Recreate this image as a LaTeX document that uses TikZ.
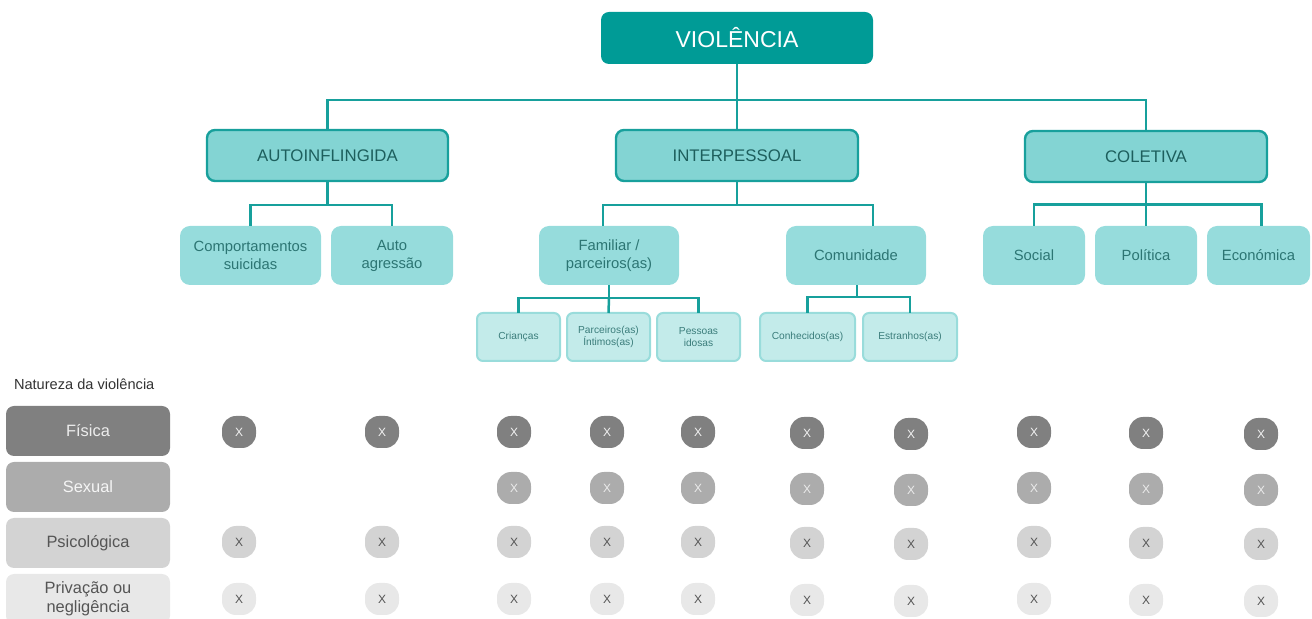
\documentclass[tikz,border=0pt]{standalone}
\usepackage{fontspec}
\setmainfont{Liberation Sans}
\usetikzlibrary{calc}
\definecolor{vioC}{RGB}{0,155,150}
\definecolor{lvTwo}{RGB}{131,212,211}
\definecolor{lvTwoB}{RGB}{24,160,156}
\definecolor{lvTwoT}{RGB}{29,95,93}
\definecolor{lvThree}{RGB}{150,220,220}
\definecolor{lvThreeT}{RGB}{44,117,115}
\definecolor{lvFour}{RGB}{195,235,234}
\definecolor{lvFourB}{RGB}{153,220,219}
\definecolor{lvFourT}{RGB}{59,125,123}
\definecolor{connC}{RGB}{23,160,156}
\definecolor{rOne}{RGB}{128,128,128}
\definecolor{rTwo}{RGB}{172,172,172}
\definecolor{rThree}{RGB}{211,211,211}
\definecolor{rFour}{RGB}{232,232,232}
\definecolor{darkT}{RGB}{85,85,85}
\newcommand\placebox[7]{\node[#1,minimum width={(#5-#3)*0.5pt},minimum height={(#6-#4)*0.5pt}] (#2) at ({(#3+#5)/2},{(#4+#6)/2}) {#7};}
\tikzset{
  base/.style={inner sep=0pt,outer sep=0pt,align=center},
  topbox/.style={base,fill=vioC,rounded corners=4pt,text=white,font=\fontsize{11.5}{13}\selectfont},
  lvtwobox/.style={base,fill=lvTwo,draw=lvTwoB,line width=1.2pt,rounded corners=4pt,text=lvTwoT,font=\fontsize{8.4}{10}\selectfont},
  lvthreebox/.style={base,fill=lvThree,rounded corners=5pt,text=lvThreeT,font=\fontsize{7.4}{9}\selectfont},
  lvfourbox/.style={base,fill=lvFour,draw=lvFourB,line width=1pt,rounded corners=3pt,text=lvFourT,font=\fontsize{5.1}{6}\selectfont},
  rowbox/.style={base,rounded corners=4pt,font=\fontsize{8.2}{9.6}\selectfont},
  mk/.style={base,rounded corners=7pt,minimum width=17pt,minimum height=16pt,font=\fontsize{6}{7}\selectfont},
  conn/.style={draw=connC,line width=1.25pt},
}
\begin{document}
\begin{tikzpicture}[x=0.5pt,y=-0.5pt]
\path[use as bounding box] (0,0) rectangle (1312,619);
% level 1
\placebox{topbox}{vio}{601}{12}{873}{64}{VIOLÊNCIA}
% level 2
\placebox{lvtwobox}{auto}{207}{130}{448}{181}{AUTOINFLINGIDA}
\placebox{lvtwobox}{inter}{616}{130}{858}{181}{INTERPESSOAL}
\placebox{lvtwobox}{col}{1025}{131}{1267}{182}{COLETIVA}
% level 3
\placebox{lvthreebox}{comp}{180}{226}{321}{285}{Comportamentos\\suicidas}
\placebox{lvthreebox}{autoag}{331}{226}{453}{285}{Auto\\agressão}
\placebox{lvthreebox}{fam}{539}{226}{679}{285}{Familiar /\\parceiros(as)}
\placebox{lvthreebox}{com}{786}{226}{926}{285}{Comunidade}
\placebox{lvthreebox}{soc}{983}{226}{1085}{285}{Social}
\placebox{lvthreebox}{pol}{1095}{226}{1197}{285}{Política}
\placebox{lvthreebox}{eco}{1207}{226}{1310}{285}{Económica}
% level 4
\placebox{lvfourbox}{cri}{477}{313}{560}{361}{Crianças}
\placebox{lvfourbox}{par}{567}{313}{650}{361}{Parceiros(as)\\Íntimos(as)}
\placebox{lvfourbox}{pes}{657}{313}{740}{361}{Pessoas\\idosas}
\placebox{lvfourbox}{con}{760}{313}{855}{361}{Conhecidos(as)}
\placebox{lvfourbox}{est}{863}{313}{957}{361}{Estranhos(as)}
% connectors level 1-2
\coordinate (bus) at (737,100);
\draw[conn] (vio.south) -- (inter.north);
\draw[conn] (auto.north) |- (bus) -| (col.north);
% auto
\coordinate (ja) at (327.5,205);
\draw[conn] (auto.south) -- (ja);
\draw[conn] (comp.north) |- (ja) -| (autoag.north);
% inter
\coordinate (ji) at (737,205);
\draw[conn] (inter.south) -- (ji);
\draw[conn] ($(fam.north)+(-6,0)$) |- (ji) -| ($(com.north)+(17,0)$);
% familiar
\coordinate (jf) at (609,298);
\draw[conn] (fam.south) -- (jf);
\draw[conn] (cri.north) |- (jf) -| (pes.north);
\draw[conn] (jf) -- (par.north);
% comunidade
\coordinate (jc) at (857,297);
\draw[conn] ($(com.south)+(1,0)$) -- (jc);
\draw[conn] (con.north) |- (jc) -| (est.north);
% coletiva
\coordinate (jk) at (1146,204.5);
\draw[conn] (col.south) -- (jk);
\draw[conn] (soc.north) |- (jk) -| ($(eco.north)+(3,0)$);
\draw[conn] (jk) -- (pol.north);
% nature of violence
\node[base,anchor=west,text=black!80,font=\fontsize{7.3}{9}\selectfont] (nat) at (14,384) {Natureza da violência};
\placebox{rowbox,fill=rOne,text=white!93!black}{fis}{6}{406}{170}{456}{Física}
\placebox{rowbox,fill=rTwo,text=white!96!black}{sex}{6}{462}{170}{512}{Sexual}
\placebox{rowbox,fill=rThree,text=darkT}{psi}{6}{518}{170}{568}{Psicológica}
\placebox{rowbox,fill=rFour,text=darkT}{pri}{6}{574}{170}{624}{Privação ou\\negligência}
% markers
\foreach \c/\x/\d in {1/239/0,2/382/0,3/514/0,4/607/0,5/698/0,6/807/1,7/911/2,8/1034/0,9/1146/1,10/1261/2} {
  \node[mk,fill=rOne,text=white!95!black] (m1-\c) at (\x,432+\d) {X};
  \ifnum\c>2
    \node[mk,fill=rTwo,text=white!92!black] (m2-\c) at (\x,488+\d) {X};
  \fi
  \node[mk,fill=rThree,text=darkT] (m3-\c) at (\x,542+\d) {X};
  \node[mk,fill=rFour,text=darkT] (m4-\c) at (\x,599+\d) {X};
}
\end{tikzpicture}
\end{document}
